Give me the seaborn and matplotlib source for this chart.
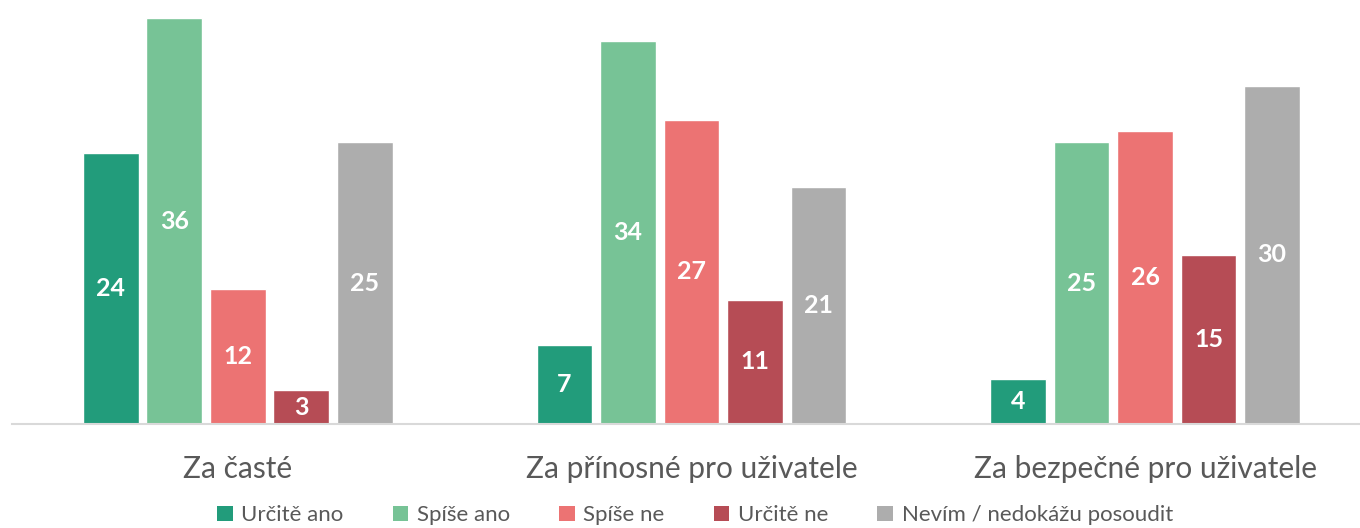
import matplotlib
matplotlib.use("Agg")
import matplotlib.pyplot as plt
import seaborn as sns
import pandas as pd
from matplotlib.patches import Patch

categories = ["Za časté", "Za přínosné pro uživatele", "Za bezpečné pro uživatele"]
series = ["Určitě ano", "Spíše ano", "Spíše ne", "Určitě ne", "Nevím / nedokážu posoudit"]
urcite_ano = [24, 7, 4]
spise_ano = [36, 34, 25]
spise_ne = [12, 27, 26]
urcite_ne = [3, 11, 15]
nevim = [25, 21, 30]
colors = ["#229C7B", "#77C396", "#EC7373", "#B64C55", "#ADADAD"]

values = [urcite_ano, spise_ano, spise_ne, urcite_ne, nevim]
rows = []
for s, vals in zip(series, values):
    for c, v in zip(categories, vals):
        rows.append({"cat": c, "series": s, "val": v})
df = pd.DataFrame(rows)

sns.set_theme(style="white")
plt.rcParams["font.family"] = ["Lato", "DejaVu Sans"]

fig = plt.figure(figsize=(13.6, 5.28), dpi=100)
ax = fig.add_axes([12/1360, 104/528, 1 - 12/1360, 424/528])

sns.barplot(data=df, x="cat", y="val", hue="series", order=categories,
            hue_order=series, palette=colors, width=0.70, gap=0.12,
            saturation=1, ax=ax, legend=False, errorbar=None)

for cont in ax.containers:
    for bar in cont:
        h = bar.get_height()
        ax.text(bar.get_x() + bar.get_width()/2, h/2, f"{int(h)}",
                ha="center", va="center", color="white",
                fontsize=18, fontweight="bold")

ax.set_xlim(-0.498, 2.474)
ax.set_ylim(0, 37.6)
ax.set_xlabel("")
ax.set_ylabel("")
ax.set_yticks([])
for sp in ["top", "right", "left"]:
    ax.spines[sp].set_visible(False)
ax.spines["bottom"].set_color("#D9D9D9")
ax.spines["bottom"].set_linewidth(1.5)
ax.tick_params(axis="x", length=0, pad=22, labelsize=21.5, labelcolor="#595959")

handles = [Patch(facecolor=c, edgecolor="none") for c in colors]
fig.legend(handles, series, loc="center", bbox_to_anchor=(0.511, 0.024),
           ncol=5, frameon=False, fontsize=16, labelcolor="#595959",
           handlelength=0.7, handleheight=0.7, handletextpad=0.4,
           columnspacing=2.2)

fig.savefig("out.png", dpi=100, facecolor="white")
